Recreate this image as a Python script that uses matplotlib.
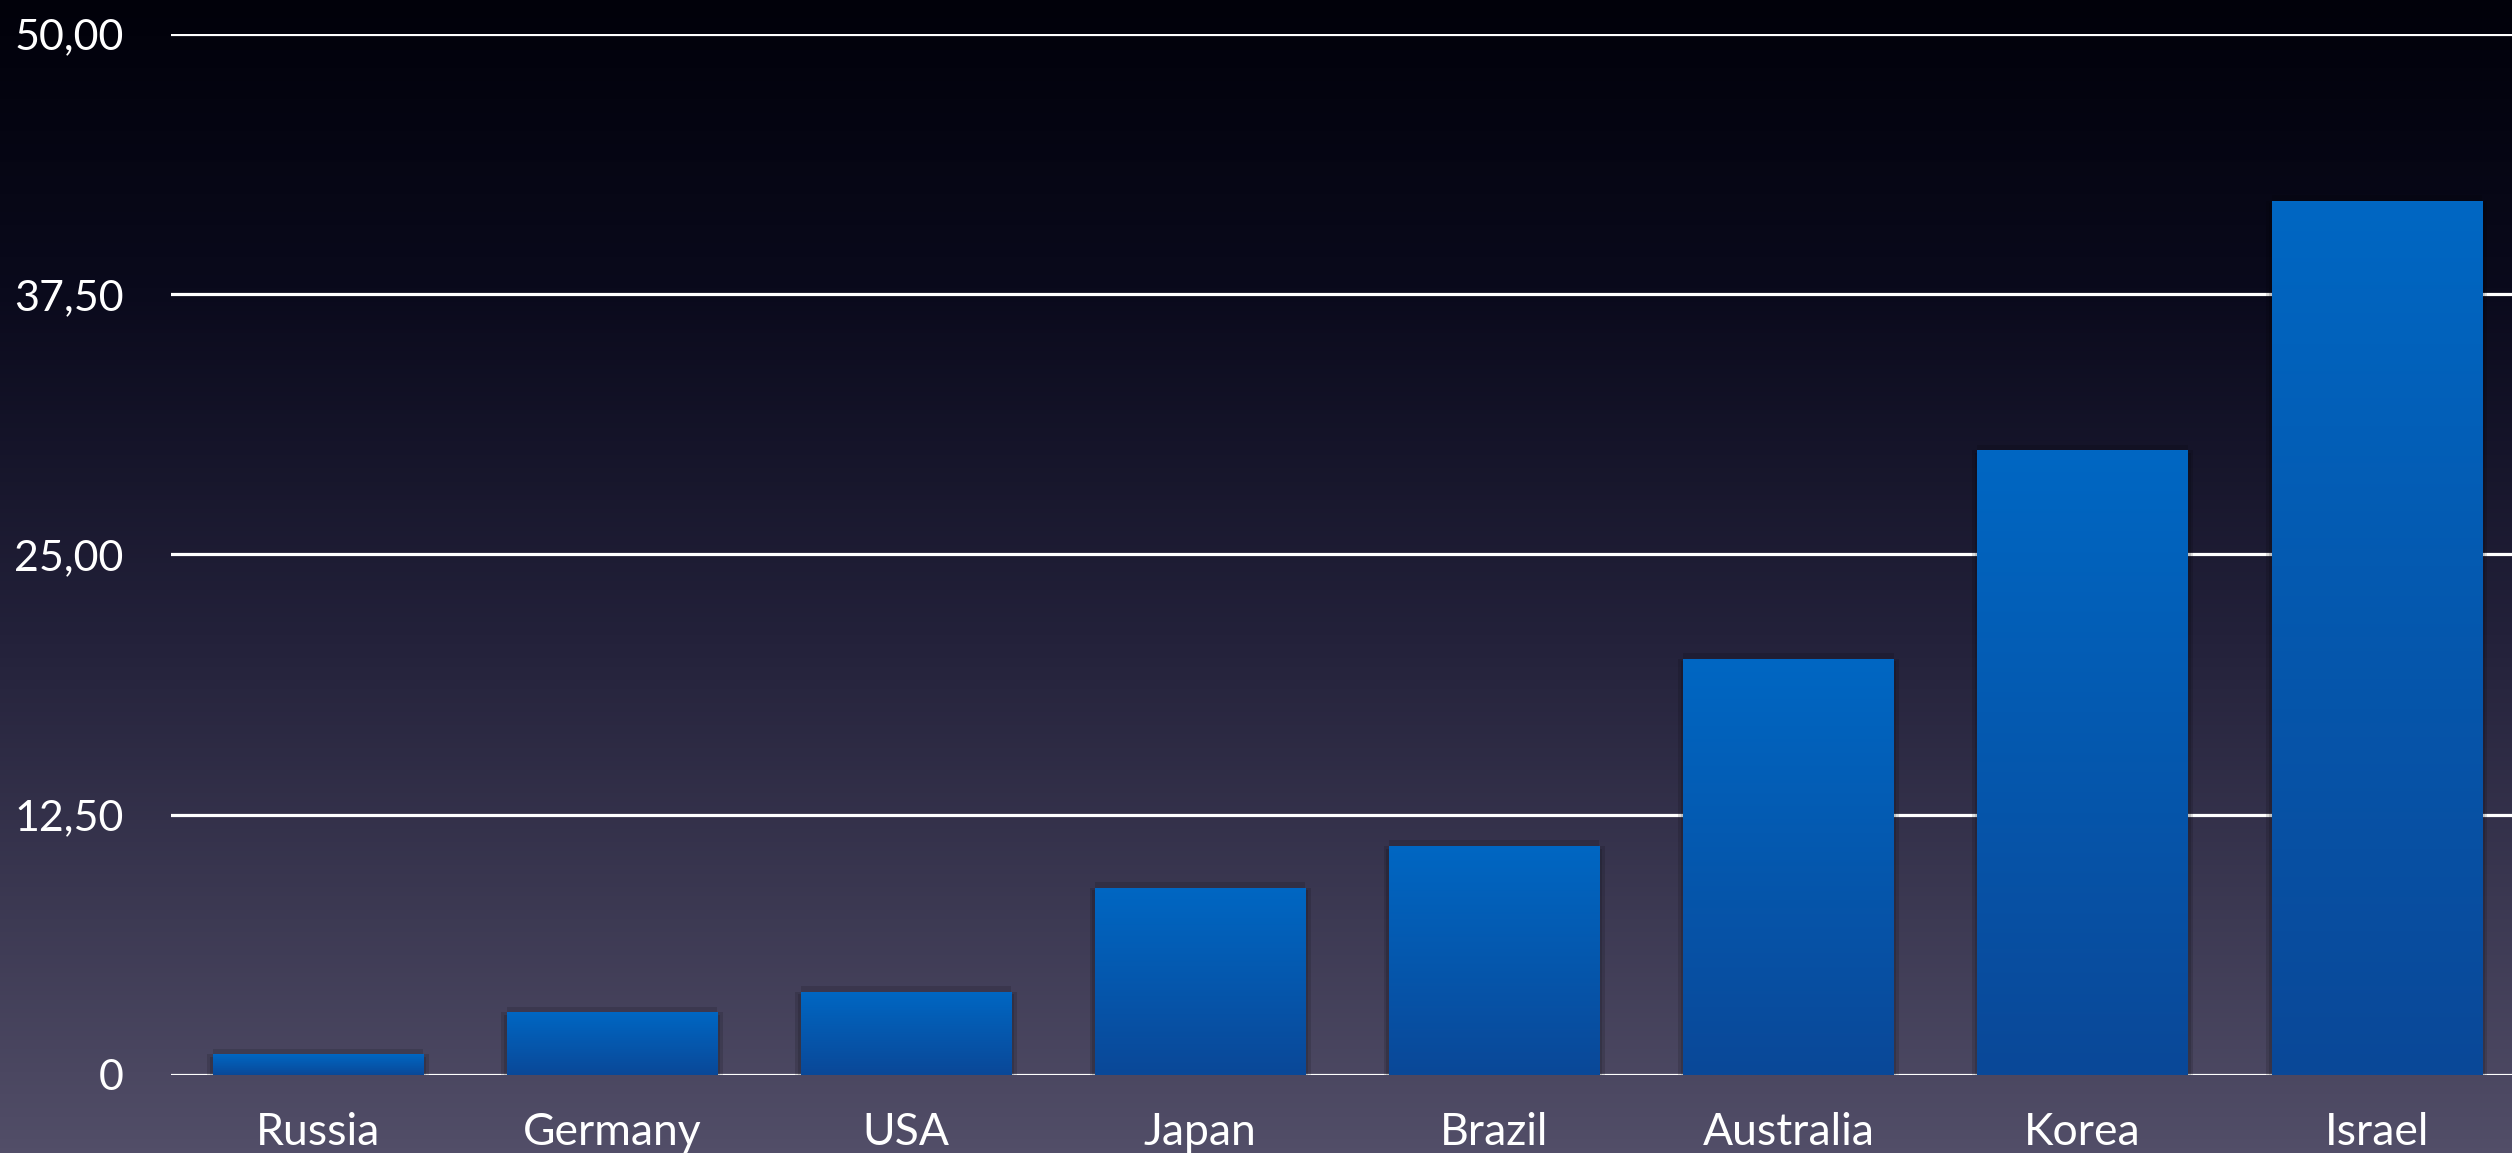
import matplotlib.pyplot as plt
import matplotlib.patheffects as pe
from matplotlib.colors import LinearSegmentedColormap
import numpy as np

countries = ['Russia', 'Germany', 'USA', 'Japan', 'Brazil', 'Australia', 'Korea', 'Israel']
values = [1, 3, 4, 9, 11, 20, 30, 42]
yticks = [0, 12.5, 25, 37.5, 50]
ytick_labels = ['0', '12,50', '25,00', '37,50', '50,00']

plt.rcParams['font.family'] = ['Lato', 'DejaVu Sans']

bg_cmap = LinearSegmentedColormap.from_list(
    'bg', [(0.0, '#01010a'), (0.25, '#0a0a1c'), (0.55, '#23213a'), (1.0, '#524e68')])
bar_cmap = LinearSegmentedColormap.from_list('bar', ['#0067c3', '#0a4898'])

fig = plt.figure(figsize=(25.12, 11.53), dpi=100)

# background gradient
bg = fig.add_axes([0, 0, 1, 1], zorder=0)
bg.imshow(np.linspace(0, 1, 256).reshape(-1, 1), aspect='auto', cmap=bg_cmap,
          extent=[0, 1, 0, 1])
bg.axis('off')

ax = fig.add_axes([0.068, 0.0677, 0.932, 0.9028], zorder=1)
ax.set_facecolor('none')

x = np.arange(len(countries))
w = 0.715
# soft shadow all round the bars
glow = [pe.SimplePatchShadow(offset=o, shadow_rgbFace='black', alpha=0.13)
        for o in [(4, 0), (-4, 0), (0, 4), (0, -4), (2, -2), (-2, -2)]]
bars = ax.bar(x, values, width=w, color='#0059b0', zorder=3,
              path_effects=glow + [pe.Normal()])

grad = np.linspace(0, 1, 256).reshape(-1, 1)
for xi, v, b in zip(x, values, bars):
    im = ax.imshow(grad, aspect='auto', cmap=bar_cmap, zorder=4,
                   extent=[xi - w / 2, xi + w / 2, 0, v])
    im.set_clip_path(b)

ax.set_xlim(-0.5, 7.46)
ax.set_ylim(0, 50)
ax.set_yticks(yticks)
ax.set_yticklabels(ytick_labels)
ax.set_xticks(x)
ax.set_xticklabels(countries)
ax.yaxis.grid(True, color='white', lw=2.3)
ax.set_axisbelow(True)
for s in ax.spines.values():
    s.set_visible(False)
ax.tick_params(axis='y', length=0, pad=34, labelsize=31, labelcolor='white')
ax.tick_params(axis='x', length=0, pad=27, labelsize=32, labelcolor='white')

fig.savefig('out.png', dpi=100)
